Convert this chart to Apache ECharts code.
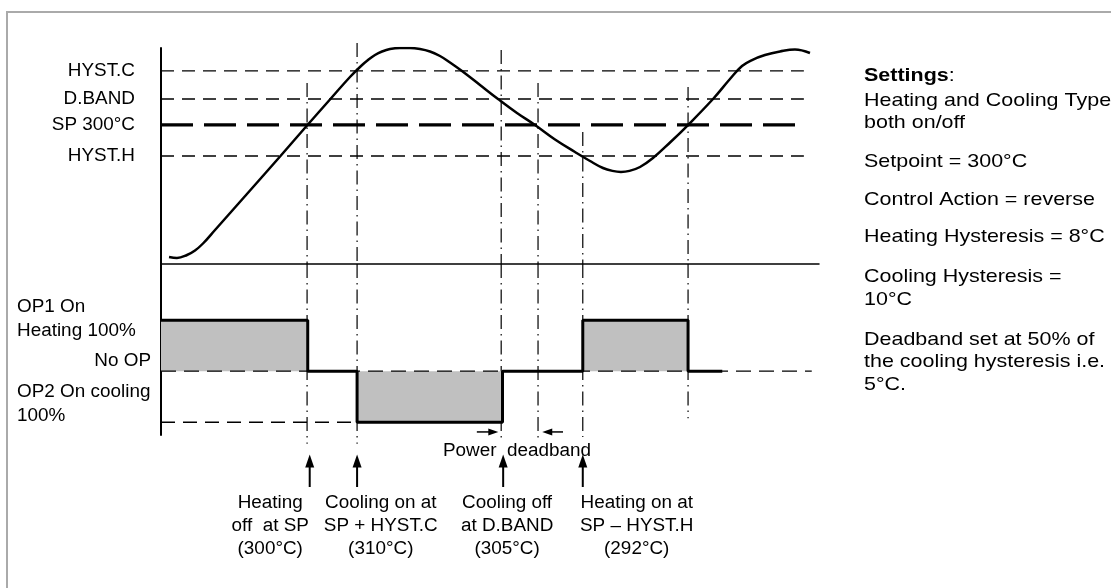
<!DOCTYPE html>
<html><head><meta charset="utf-8">
<script src="https://cdn.jsdelivr.net/npm/echarts@6/dist/echarts.min.js"></script>
<style>html,body{margin:0;padding:0;background:#fff}#c{width:1111px;height:588px}</style>
</head><body><div id="c"></div>
<script>
// ================= DATA =================
// Process value curve: x = time (0-100, arbitrary), y = schematic process level (0-100)
const curveTime  = [1.22, 2.43, 3.95, 5.17, 6.38, 8.21, 13.53, 18.09, 22.19, 25.68, 28.72, 30.40, 31.46, 32.52, 33.59, 34.80, 36.32, 37.84, 39.36, 40.88, 42.40, 43.92, 45.74, 48.48, 51.22, 54.10, 56.84, 59.88, 62.92, 65.20, 67.17, 68.60, 69.90, 71.20, 72.80, 74.77, 77.36, 80.09, 83.89, 86.47, 88.30, 89.82, 91.79, 94.07, 96.35, 98.63];
const curveLevel = [3.24, 2.78, 4.17, 6.25, 9.49, 15.74, 34.03, 49.77, 64.12, 76.16, 86.57, 91.67, 94.44, 96.76, 98.38, 99.54, 100.0, 100.0, 99.54, 98.38, 96.30, 93.29, 89.35, 82.87, 76.39, 69.91, 64.35, 57.64, 51.85, 47.69, 44.44, 43.10, 42.60, 43.10, 44.91, 49.07, 56.25, 64.35, 76.39, 85.65, 91.67, 94.44, 96.76, 98.38, 99.31, 97.69];
// threshold levels (schematic)
const levelNames  = ['HYST.C', 'D.BAND', 'SP 300°C', 'HYST.H'];
const levelValues = [89.4, 76.4, 64.4, 50.0];
const levelEnd    = 97.7;
// switching events (time), their extent in the upper panel and in the lower (output %) panel
const eventTime   = [22.2, 29.8, 51.7, 57.3, 64.1, 80.1];
const eventTop    = [83.8, 102.3, 99.1, 83.8, 61.1, 81.9];
const eventBottom = [-142, -142, -131, -131, -129, -92];
// output (% : +100 heating, -100 cooling)
const outputTime = [0, 22.3, 29.8, 51.9, 64.1, 80.1, 85.3];
const outputPct  = [100, 0, -100, 0, 100, 0, 0];
const noOpEnd = 98.9;
const op2DashEnd = 29.8;
// arrows & annotations
const arrowTime = [22.6, 29.8, 52.0, 64.1];
const annoTime  = [16.6, 33.4, 52.6, 72.3];
const annoText  = [
  'Heating\noff  at SP\n(300°C)',
  'Cooling on at\nSP + HYST.C\n(310°C)',
  'Cooling off\nat D.BAND\n(305°C)',
  'Heating on at\nSP – HYST.H\n(292°C)'
];
const deadbandArrowR = [48.0, 50.5];
const deadbandArrowL = [61.1, 58.7];
const deadbandLabel = 'Power  deadband';
const outputLabels = ['OP1 On\nHeating 100%', 'No OP', 'OP2 On cooling\n100%'];
const settingsLines = [
  ['{b|Settings}:', 76],
  ['Heating and Cooling Type', 101], ['both on/off', 123],
  ['Setpoint = 300°C', 162],
  ['Control Action = reverse', 200],
  ['Heating Hysteresis = 8°C', 237],
  ['Cooling Hysteresis =', 277], ['10°C', 300],
  ['Deadband set at 50% of', 340], ['the cooling hysteresis i.e.', 362], ['5°C.', 385]
];

// ================= CHART =================
const FONT = '"Liberation Sans", Arial, Helvetica, sans-serif';
const BLACK = '#000';
const chart = echarts.init(document.getElementById('c'), null, {renderer: 'canvas'});

const hidden = {axisTick: {show: false}, axisLabel: {show: false}, splitLine: {show: false}};
const series = [];

// threshold dashed lines
levelValues.forEach((v, i) => {
  series.push({
    type: 'line', xAxisIndex: 0, yAxisIndex: 0, silent: true, showSymbol: false, z: 2,
    data: [[0, v], [levelEnd, v]],
    lineStyle: i === 2 ? {color: BLACK, width: 3.2, type: [32, 11]} : {color: BLACK, width: 1.3, type: [13, 8]}
  });
});
// temperature curve
series.push({
  type: 'line', xAxisIndex: 0, yAxisIndex: 0, silent: true, showSymbol: false, smooth: 0.4, z: 5,
  data: curveTime.map((t, i) => [t, curveLevel[i]]),
  lineStyle: {color: BLACK, width: 2.5}
});
// vertical event lines (upper & lower parts)
const dashDot = [14, 5, 1.5, 5];
eventTime.forEach((t, i) => {
  series.push({type: 'line', xAxisIndex: 0, yAxisIndex: 0, silent: true, showSymbol: false, clip: false, z: 3,
    data: [[t, eventTop[i]], [t, 0]], lineStyle: {color: BLACK, width: 1.2, type: dashDot}});
  series.push({type: 'line', xAxisIndex: 1, yAxisIndex: 1, silent: true, showSymbol: false, clip: false, z: 3,
    data: [[t, 210], [t, eventBottom[i]]], lineStyle: {color: BLACK, width: 1.2, type: dashDot}});
});
// output step with grey area
series.push({
  type: 'line', xAxisIndex: 1, yAxisIndex: 1, silent: true, showSymbol: false, step: 'end', z: 4,
  data: outputTime.map((t, i) => [t, outputPct[i]]),
  lineStyle: {color: BLACK, width: 3},
  areaStyle: {color: '#c0c0c0', opacity: 1, origin: 'auto'}
});
// No OP and OP2 dashed reference lines
series.push({type: 'line', xAxisIndex: 1, yAxisIndex: 1, silent: true, showSymbol: false, z: 5,
  data: [[0, 0], [noOpEnd, 0]], lineStyle: {color: BLACK, width: 1.3, type: [15, 8]}});
series.push({type: 'line', xAxisIndex: 1, yAxisIndex: 1, silent: true, showSymbol: false, z: 5,
  data: [[0, -100], [op2DashEnd, -100]], lineStyle: {color: BLACK, width: 1.3, type: [14, 8]}});
// deadband arrows
function hArrow(pair, rot) {
  return {type: 'line', xAxisIndex: 1, yAxisIndex: 1, silent: true, showSymbol: true, clip: false, z: 6,
    data: [{value: [pair[0], -119], symbol: 'none'},
           {value: [pair[1], -119], symbol: 'triangle', symbolSize: [7, 10], symbolRotate: rot}],
    lineStyle: {color: BLACK, width: 1.5}, itemStyle: {color: BLACK}};
}
series.push(hArrow(deadbandArrowR, -90));
series.push(hArrow(deadbandArrowL, 90));
// up arrows
arrowTime.forEach(t => {
  series.push({type: 'line', xAxisIndex: 2, yAxisIndex: 2, silent: true, showSymbol: true, z: 6,
    data: [{value: [t, 66], symbol: 'none'}, {value: [t, 83], symbol: 'triangle', symbolSize: [9, 13]}],
    lineStyle: {color: BLACK, width: 2}, itemStyle: {color: BLACK}});
});

chart.setOption({
  animation: false,
  backgroundColor: '#fff',
  grid: [
    {left: 161, right: 292, top: 48, height: 216},
    {left: 161, right: 292, top: 264, height: 171},
    {left: 161, right: 292, top: 435, height: 153}
  ],
  xAxis: [0, 1, 2].map(i => Object.assign({
    gridIndex: i, type: 'value', min: 0, max: 100, show: i === 0,
    axisLine: {show: true, onZero: false, lineStyle: {color: BLACK, width: 1.5}}
  }, hidden)),
  yAxis: [
    Object.assign({gridIndex: 0, type: 'value', min: 0, max: 100,
      axisLine: {show: true, onZero: false, lineStyle: {color: BLACK, width: 2}}}, hidden),
    Object.assign({gridIndex: 1, type: 'value', min: -125, max: 210,
      axisLine: {show: true, onZero: false, lineStyle: {color: BLACK, width: 2}}}, hidden),
    Object.assign({gridIndex: 2, type: 'value', min: 0, max: 100, show: false}, hidden)
  ],
  series: series
});

// ================= TEXT (positioned from the axes) =================
const P = (g, t, v) => chart.convertToPixel({xAxisIndex: g, yAxisIndex: g}, [t, v]);
function txt(x, y, text, align, opt) {
  opt = opt || {};
  return {
    type: 'text', x: x, y: y, scaleX: opt.scaleX || 1.05, silent: true, z: 10,
    style: {
      text: text, x: 0, y: 0, align: align, verticalAlign: 'middle',
      fontSize: opt.fontSize || 18, fontFamily: FONT, fill: BLACK,
      lineHeight: opt.lineHeight || 23,
      rich: opt.rich
    }
  };
}
const g = [];
// border
g.push({type: 'rect', silent: true, z: 0, shape: {x: 7, y: 12, width: 1300, height: 800},
  style: {fill: 'none', stroke: '#aaaaaa', lineWidth: 2}});
levelValues.forEach((v, i) => {
  const p = P(0, 0, v);
  g.push(txt(p[0] - 26, p[1], levelNames[i], 'right'));
});
{
  const p1 = P(1, 0, 100), p0 = P(1, 0, 0), p2 = P(1, 0, -100);
  g.push(txt(p1[0] - 144, p1[1] - 1, outputLabels[0], 'left', {lineHeight: 24}));
  g.push(txt(p0[0] - 10, p0[1] - 10, outputLabels[1], 'right'));
  g.push(txt(p2[0] - 144, p2[1] - 18, outputLabels[2], 'left', {lineHeight: 24}));
}
annoTime.forEach((t, i) => {
  const p = P(2, t, 40.5);
  g.push(txt(p[0], p[1], annoText[i], 'center'));
});
{
  const p = P(2, 54.1, 89.5);
  g.push(txt(p[0], p[1], deadbandLabel, 'center'));
}
settingsLines.forEach(([s, y]) => {
  g.push(txt(864, y, s, 'left', {fontSize: 19, scaleX: 1.13,
    rich: {b: {fontWeight: 'bold', fontSize: 19, fontFamily: FONT, fill: BLACK}}}));
});
chart.setOption({graphic: g});
</script>
</body></html>
